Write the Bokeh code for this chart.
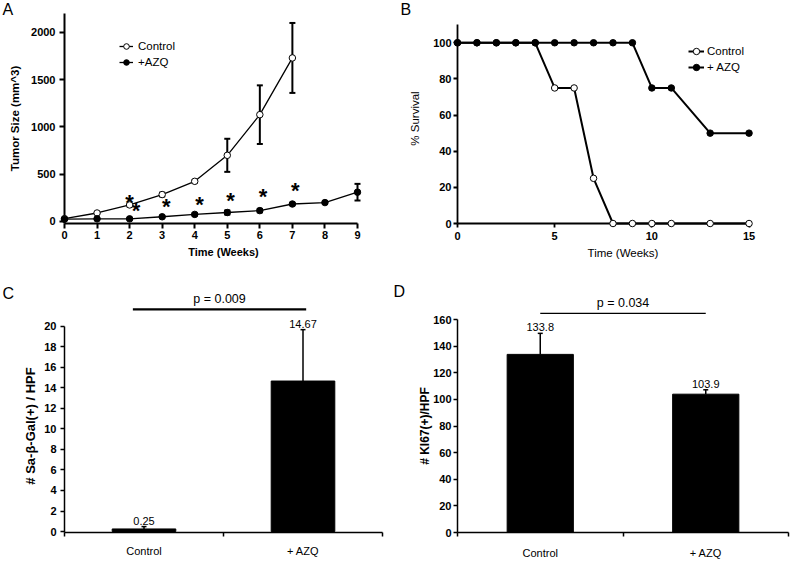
from bokeh.plotting import figure
from bokeh.layouts import column, row
from bokeh.models import Range1d, FixedTicker, Legend, LegendItem
from bokeh.core.properties import value
from bokeh.embed import file_html
from bokeh.resources import INLINE

FONT = "Liberation Sans"

# ---------------- Panel A data: tumor size ----------------
weeks_ctrl = [0, 1, 2, 3, 4, 5, 6, 7]
tumor_ctrl = [30, 90, 175, 285, 425, 700, 1130, 1730]
tumor_ctrl_err = [5, 10, 15, 20, 15, 175, 310, 370]
weeks_azq = [0, 1, 2, 3, 4, 5, 6, 7, 8, 9]
tumor_azq = [25, 28, 28, 50, 75, 95, 115, 185, 200, 310]
tumor_azq_err = [5, 5, 5, 8, 10, 22, 18, 12, 8, 88]
star_x = [2.0, 2.2, 3.13, 4.15, 5.1, 6.1, 7.09]
star_y = [215, 127, 169, 194, 229, 275, 342]
a_yticks = [0, 500, 1000, 1500, 2000]

# ---------------- Panel B data: survival ----------------
surv_weeks = [0, 1, 2, 3, 4, 5, 6, 7, 8, 9, 10, 11, 13, 15]
surv_ctrl = [100, 100, 100, 100, 100, 75, 75, 25, 0, 0, 0, 0, 0, 0]
surv_azq = [100, 100, 100, 100, 100, 100, 100, 100, 100, 100, 75, 75, 50, 50]
b_xticks = [0, 5, 10, 15]
b_yticks = [0, 20, 40, 60, 80, 100]

# ---------------- Panels C / D data: bars ----------------
groups = ["Control", "+ AZQ"]
sa_gal = [0.25, 14.67]
sa_gal_err = [0.23, 5.01]
sa_gal_labels = ["0.25", "14.67"]
c_yticks = [0, 2, 4, 6, 8, 10, 12, 14, 16, 18, 20]
ki67 = [133.8, 103.9]
ki67_err = [15.8, 3.3]
ki67_labels = ["133.8", "103.9"]
d_yticks = [0, 20, 40, 60, 80, 100, 120, 140, 160]
p_c = "p = 0.009"
p_d = "p = 0.034"

# ---------------- layout (pixels) ----------------
COL1_W, COL2_W = 390, 400
ROW1_H, ROW2_H = 280, 281
L1, R1 = 64, 8
L2, R2 = 67, 2
T1, B1 = 13, 57
T2, B2 = 39, 25


def style(p, lw, tick_out=5):
    p.outline_line_color = None
    p.grid.visible = False
    p.background_fill_color = "white"
    p.border_fill_color = "white"
    for ax in p.axis:
        ax.axis_line_width = lw
        ax.axis_line_color = "black"
        ax.major_tick_line_width = lw
        ax.major_tick_line_color = "black"
        ax.minor_tick_line_color = None
        ax.major_tick_in = 0
        ax.major_tick_out = tick_out
        ax.major_label_text_font = FONT
        ax.major_label_text_font_size = "11px"
        ax.major_label_text_font_style = "bold"
        ax.major_label_text_color = "black"
        ax.axis_label_text_font = FONT
        ax.axis_label_text_font_size = "11.5px"
        ax.axis_label_text_font_style = "normal"
        ax.axis_label_text_color = "black"


def panel_letter(p, txt, dx, dy):
    # anchored at the frame's top-left corner, offset in pixels
    p.text(x=[p.x_range.start], y=[p.y_range.end], text=[txt], text_font=value(FONT),
           text_font_size="16px", text_color="black", text_align="left",
           text_baseline="top", x_offset=dx, y_offset=dy, level="overlay")


# ================= Panel A =================
pA = figure(width=COL1_W, height=ROW1_H, x_range=Range1d(0, 9.768), y_range=Range1d(-21.2, 2200),
            output_backend="svg", toolbar_location=None, title=None,
            min_border_left=L1, min_border_right=R1, min_border_top=T1, min_border_bottom=B1)
style(pA, 2, 5)
pA.xaxis.ticker = FixedTicker(ticks=weeks_azq)
pA.xaxis.bounds = (0, 9)
pA.yaxis.ticker = FixedTicker(ticks=a_yticks)
pA.xaxis.axis_label = "Time (Weeks)"
pA.yaxis.axis_label = "Tumor Size (mm^3)"
pA.xaxis.axis_label_text_font_style = "bold"
pA.yaxis.axis_label_text_font_style = "bold"
pA.xaxis.axis_label_text_font_size = "11px"
pA.xaxis.major_label_standoff = 2
pA.xaxis.axis_label_standoff = 4
pA.yaxis.major_label_standoff = 4
pA.yaxis.axis_label_standoff = 7

lc = pA.line(weeks_ctrl, tumor_ctrl, line_color="black", line_width=1.3, level="overlay")
la = pA.line(weeks_azq, tumor_azq, line_color="black", line_width=1.3, level="overlay")
for xs, ys, es in ((weeks_ctrl, tumor_ctrl, tumor_ctrl_err), (weeks_azq, tumor_azq, tumor_azq_err)):
    lo = [v - e for v, e in zip(ys, es)]
    up = [v + e for v, e in zip(ys, es)]
    pA.segment(x0=xs, y0=lo, x1=xs, y1=up, line_color="black", line_width=2, level="overlay")
    pA.scatter(x=xs + xs, y=lo + up, marker="dash", size=6, line_color="black",
               line_width=2, level="overlay")
pA.text(x=star_x, y=star_y, text=["*"] * len(star_x), text_font=value(FONT),
        text_font_style="bold", text_font_size="22px", text_align="center",
        text_baseline="alphabetic", y_offset=1, text_color="black", level="overlay")
sc = pA.scatter(weeks_ctrl, tumor_ctrl, size=6.5, fill_color="white", line_color="black",
                line_width=1, level="overlay")
sa = pA.scatter(weeks_azq, tumor_azq, size=6.5, fill_color="black", line_color="black",
                line_width=1, level="overlay")
legA = Legend(items=[LegendItem(label="Control", renderers=[lc, sc]),
                     LegendItem(label="+AZQ", renderers=[la, sa])],
              location=(55, 153), orientation="vertical", padding=0, margin=0, spacing=0,
              glyph_width=14, glyph_height=16, label_height=15, label_standoff=5,
              border_line_color=None, background_fill_alpha=0,
              label_text_font=FONT, label_text_font_size="11.5px", label_text_color="black")
pA.add_layout(legA)
panel_letter(pA, "A", -62, -13)

# ================= Panel B =================
pB = figure(width=COL2_W, height=ROW1_H, x_range=Range1d(0, 17.03), y_range=Range1d(0, 116.2),
            output_backend="svg", toolbar_location=None, title=None,
            min_border_left=L2, min_border_right=R2, min_border_top=T1, min_border_bottom=B1)
style(pB, 1.8, 4)
pB.xaxis.ticker = FixedTicker(ticks=b_xticks)
pB.xaxis.bounds = (0, 15)
pB.yaxis.ticker = FixedTicker(ticks=b_yticks)
pB.yaxis.bounds = (0, 110)
pB.xaxis.axis_label = "Time (Weeks)"
pB.yaxis.axis_label = "% Survival"
pB.xaxis.major_label_standoff = 4
pB.xaxis.axis_label_standoff = 4
pB.yaxis.major_label_standoff = 2
pB.yaxis.axis_label_standoff = 9

lbc = pB.line(surv_weeks, surv_ctrl, line_color="black", line_width=2, level="overlay")
sbc = pB.scatter(surv_weeks, surv_ctrl, size=6.5, fill_color="white", line_color="black",
                 line_width=1, level="overlay")
lba = pB.line(surv_weeks, surv_azq, line_color="black", line_width=2, level="overlay")
sba = pB.scatter(surv_weeks, surv_azq, size=6.5, fill_color="black", line_color="black",
                 line_width=1, level="overlay")
legB = Legend(items=[LegendItem(label="Control", renderers=[lbc, sbc]),
                     LegendItem(label="+ AZQ", renderers=[lba, sba])],
              location=(231, 148), orientation="vertical", padding=0, margin=0, spacing=0,
              glyph_width=16, glyph_height=16, label_height=15, label_standoff=3,
              border_line_color=None, background_fill_alpha=0,
              label_text_font=FONT, label_text_font_size="11.5px", label_text_color="black")
pB.add_layout(legB)
panel_letter(pB, "B", -57, -13)


# ================= Bar panels =================
def bar_panel(width, bl, br, yrange, ybounds, vals, errs, labels, yticks, ytitle, ptxt,
              sig_offsets, plw, ylab_size, ystandoff, ylab_standoff, xstandoff):
    p = figure(width=width, height=ROW2_H, x_range=Range1d(0, 2), y_range=Range1d(*yrange),
               output_backend="svg", toolbar_location=None, title=None,
               min_border_left=bl, min_border_right=br,
               min_border_top=T2, min_border_bottom=B2)
    style(p, 1.5, 4)
    xs = [i + 0.5 for i in range(len(groups))]
    p.xaxis.ticker = FixedTicker(ticks=xs, minor_ticks=[0, 1, 2])
    p.xaxis.major_label_overrides = {x: g for x, g in zip(xs, groups)}
    p.xaxis.major_tick_out = 0
    p.xaxis.minor_tick_out = 4
    p.xaxis.minor_tick_in = 0
    p.xaxis.minor_tick_line_color = "black"
    p.xaxis.minor_tick_line_width = 1.5
    p.xaxis.major_label_standoff = xstandoff
    p.xaxis.major_label_text_font_style = "normal"
    p.yaxis.ticker = FixedTicker(ticks=yticks)
    if ybounds is not None:
        p.yaxis.bounds = ybounds
    p.yaxis.axis_label = ytitle
    p.yaxis.axis_label_text_font_style = "bold"
    p.yaxis.axis_label_text_font_size = ylab_size
    p.yaxis.major_label_standoff = ystandoff
    p.yaxis.axis_label_standoff = ylab_standoff

    p.vbar(x=xs, top=vals, width=0.4, fill_color="black", line_color="black")
    tops = [v + e for v, e in zip(vals, errs)]
    p.segment(x0=xs, y0=vals, x1=xs, y1=tops, line_color="black", line_width=1.5, level="overlay")
    p.scatter(x=xs, y=tops, marker="dash", size=5, line_color="black", line_width=1.5,
              level="overlay")
    p.text(x=xs, y=tops, text=labels, text_font=value(FONT), text_font_size="11px",
           text_align="center", text_baseline="bottom", y_offset=-2, text_color="black",
           level="overlay")
    sig_y = max(tops) * 1.1
    x0 = xs[0] + sig_offsets[0]
    x1 = xs[1] + sig_offsets[1]
    p.segment(x0=[x0], y0=[sig_y], x1=[x1], y1=[sig_y], line_color="black", line_width=plw,
              level="overlay")
    p.text(x=[(x0 + x1) / 2], y=[sig_y], text=[ptxt], text_font=value(FONT),
           text_font_size="12.5px", text_align="center", text_baseline="bottom", y_offset=-3,
           text_color="black", level="overlay")
    return p


pC = bar_panel(COL1_W, L1, R1, (-0.096, 20.67), (-0.096, 20), sa_gal, sa_gal_err, sa_gal_labels,
               c_yticks, "# Sa-\u03b2-Gal(+) / HPF", p_c, (-0.07, 0.02), 2.3, "13px", 4, 3, 8)
panel_letter(pC, "C", -62, -35)
pD = bar_panel(COL2_W, L2, R2, (0, 160), None, ki67, ki67_err, ki67_labels,
               d_yticks, "# KI67(+)/HPF", p_d, (0.0, 0.0), 1.3, "12px", 2, -2, 10)
panel_letter(pD, "D", -64, -37)

layout = column(row(pA, pB), row(pC, pD))
open("out.html", "w").write(file_html(layout, INLINE))
